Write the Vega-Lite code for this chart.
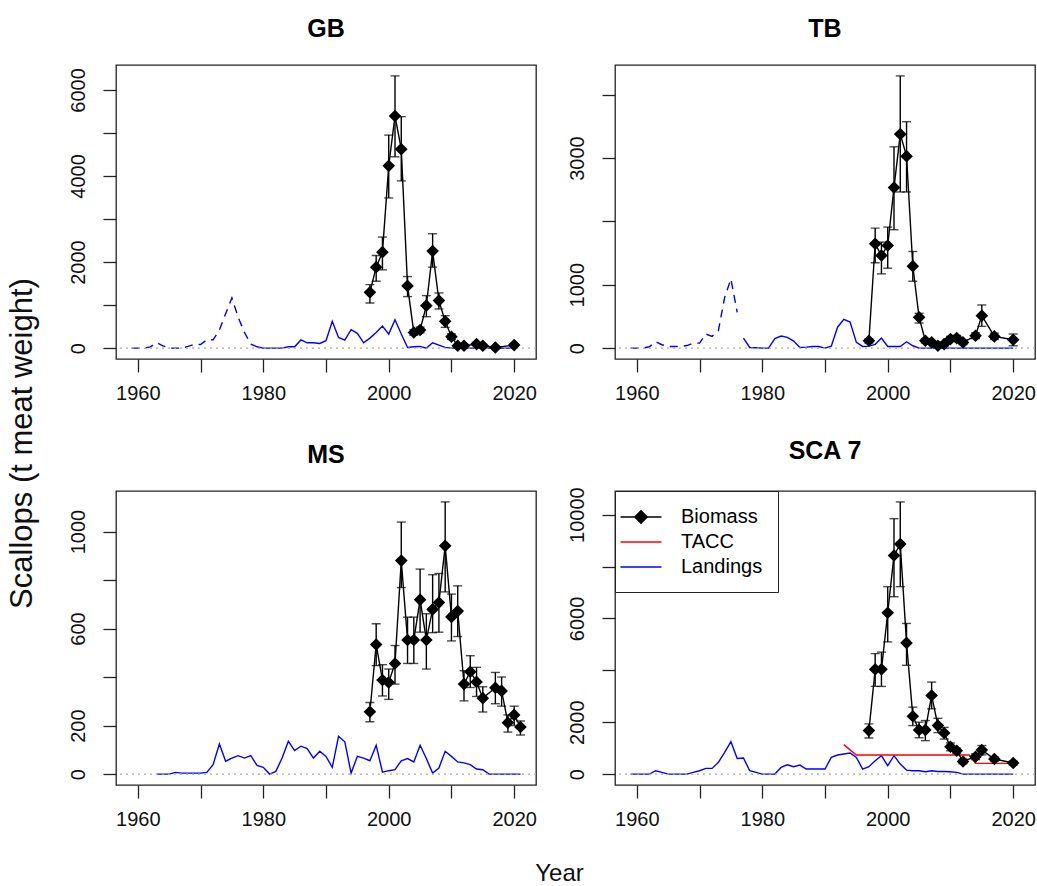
{
"$schema": "https://vega.github.io/schema/vega-lite/v6.json",
"background": "white",
"padding": {"left": 5, "top": 16, "right": 5, "bottom": 5},
"columns": 2,
"spacing": {"row": 132, "column": 79},
"bounds": "flush",
"resolve": {"scale": {"color": "independent"}, "legend": {"color": "independent"}},
"datasets": {
"bio": [
{"p":"GB","year":1997,"b":1296,"lo":1049,"hi":1476},{"p":"GB","year":1998,"b":1881,"lo":1554,"hi":2153},{"p":"GB","year":1999,"b":2230,"lo":1819,"hi":2580},{"p":"GB","year":2000,"b":4236,"lo":3490,"hi":4950},{"p":"GB","year":2001,"b":5394,"lo":4446,"hi":6326},{"p":"GB","year":2002,"b":4624,"lo":3886,"hi":5378},{"p":"GB","year":2003,"b":1446,"lo":1197,"hi":1663},{"p":"GB","year":2004,"b":364,"lo":300,"hi":430},{"p":"GB","year":2005,"b":420,"lo":355,"hi":490},{"p":"GB","year":2006,"b":987,"lo":730,"hi":1220},{"p":"GB","year":2007,"b":2254,"lo":1881,"hi":2658},{"p":"GB","year":2008,"b":1104,"lo":909,"hi":1282},{"p":"GB","year":2009,"b":622,"lo":482,"hi":754},{"p":"GB","year":2010,"b":264,"lo":200,"hi":330},{"p":"GB","year":2011,"b":54,"lo":25,"hi":85},{"p":"GB","year":2012,"b":54,"lo":25,"hi":85},{"p":"GB","year":2014,"b":93,"lo":60,"hi":130},{"p":"GB","year":2015,"b":54,"lo":25,"hi":85},{"p":"GB","year":2017,"b":15,"lo":0,"hi":40},{"p":"GB","year":2020,"b":70,"lo":40,"hi":100},
{"p":"TB","year":1997,"b":116,"lo":80,"hi":150},{"p":"TB","year":1998,"b":1646,"lo":1346,"hi":1894},{"p":"TB","year":1999,"b":1462,"lo":1172,"hi":1673},{"p":"TB","year":2000,"b":1620,"lo":1261,"hi":1910},{"p":"TB","year":2001,"b":2533,"lo":1868,"hi":3177},{"p":"TB","year":2002,"b":3377,"lo":2464,"hi":4296},{"p":"TB","year":2003,"b":3029,"lo":2464,"hi":3573},{"p":"TB","year":2004,"b":1293,"lo":1055,"hi":1525},{"p":"TB","year":2005,"b":485,"lo":396,"hi":549},{"p":"TB","year":2006,"b":116,"lo":80,"hi":150},{"p":"TB","year":2007,"b":90,"lo":60,"hi":120},{"p":"TB","year":2008,"b":37,"lo":10,"hi":65},{"p":"TB","year":2009,"b":63,"lo":30,"hi":95},{"p":"TB","year":2010,"b":142,"lo":100,"hi":185},{"p":"TB","year":2011,"b":158,"lo":115,"hi":200},{"p":"TB","year":2012,"b":90,"lo":55,"hi":125},{"p":"TB","year":2014,"b":195,"lo":150,"hi":240},{"p":"TB","year":2015,"b":512,"lo":343,"hi":681},{"p":"TB","year":2017,"b":185,"lo":135,"hi":235},{"p":"TB","year":2020,"b":132,"lo":37,"hi":222},
{"p":"MS","year":1997,"b":257,"lo":216,"hi":295},{"p":"MS","year":1998,"b":534,"lo":447,"hi":620},{"p":"MS","year":1999,"b":388,"lo":322,"hi":451},{"p":"MS","year":2000,"b":378,"lo":308,"hi":433},{"p":"MS","year":2001,"b":456,"lo":371,"hi":530},{"p":"MS","year":2002,"b":880,"lo":769,"hi":1039},{"p":"MS","year":2003,"b":553,"lo":456,"hi":647},{"p":"MS","year":2004,"b":553,"lo":456,"hi":647},{"p":"MS","year":2005,"b":719,"lo":585,"hi":845},{"p":"MS","year":2006,"b":553,"lo":433,"hi":661},{"p":"MS","year":2007,"b":679,"lo":583,"hi":822},{"p":"MS","year":2008,"b":707,"lo":585,"hi":827},{"p":"MS","year":2009,"b":941,"lo":751,"hi":1122},{"p":"MS","year":2010,"b":648,"lo":549,"hi":742},{"p":"MS","year":2011,"b":672,"lo":567,"hi":776},{"p":"MS","year":2012,"b":371,"lo":302,"hi":426},{"p":"MS","year":2013,"b":422,"lo":357,"hi":488},{"p":"MS","year":2014,"b":380,"lo":320,"hi":440},{"p":"MS","year":2015,"b":313,"lo":256,"hi":360},{"p":"MS","year":2017,"b":356,"lo":290,"hi":419},{"p":"MS","year":2018,"b":343,"lo":280,"hi":400},{"p":"MS","year":2019,"b":212,"lo":173,"hi":244},{"p":"MS","year":2020,"b":244,"lo":200,"hi":280},{"p":"MS","year":2021,"b":194,"lo":161,"hi":219},
{"p":"SCA","year":1997,"b":1676,"lo":1394,"hi":1935},{"p":"SCA","year":1998,"b":4038,"lo":3380,"hi":4645},{"p":"SCA","year":1999,"b":4038,"lo":3380,"hi":4700},{"p":"SCA","year":2000,"b":6218,"lo":5095,"hi":7225},{"p":"SCA","year":2001,"b":8425,"lo":6837,"hi":9845},{"p":"SCA","year":2002,"b":8865,"lo":7225,"hi":10492},{"p":"SCA","year":2003,"b":5057,"lo":4193,"hi":5807},{"p":"SCA","year":2004,"b":2230,"lo":1870,"hi":2580},{"p":"SCA","year":2005,"b":1703,"lo":1400,"hi":2000},{"p":"SCA","year":2006,"b":1703,"lo":1290,"hi":2064},{"p":"SCA","year":2007,"b":3031,"lo":2516,"hi":3547},{"p":"SCA","year":2008,"b":1870,"lo":1600,"hi":2150},{"p":"SCA","year":2009,"b":1587,"lo":1350,"hi":1800},{"p":"SCA","year":2010,"b":1057,"lo":900,"hi":1200},{"p":"SCA","year":2011,"b":902,"lo":800,"hi":1000},{"p":"SCA","year":2012,"b":488,"lo":400,"hi":580},{"p":"SCA","year":2014,"b":670,"lo":560,"hi":780},{"p":"SCA","year":2015,"b":929,"lo":740,"hi":1100},{"p":"SCA","year":2017,"b":581,"lo":500,"hi":660},{"p":"SCA","year":2020,"b":426,"lo":350,"hi":500}
],
"land": [
{"p":"GB","year":1959,"v":0,"seg":"e"},{"p":"GB","year":1960,"v":0,"seg":"e"},{"p":"GB","year":1961,"v":0,"seg":"e"},{"p":"GB","year":1962,"v":30,"seg":"e"},{"p":"GB","year":1963,"v":124,"seg":"e"},{"p":"GB","year":1964,"v":54,"seg":"e"},{"p":"GB","year":1965,"v":0,"seg":"e"},{"p":"GB","year":1966,"v":0,"seg":"e"},{"p":"GB","year":1967,"v":0,"seg":"e"},{"p":"GB","year":1968,"v":40,"seg":"e"},{"p":"GB","year":1969,"v":85,"seg":"e"},{"p":"GB","year":1970,"v":85,"seg":"e"},{"p":"GB","year":1971,"v":194,"seg":"e"},{"p":"GB","year":1972,"v":194,"seg":"e"},{"p":"GB","year":1973,"v":420,"seg":"e"},{"p":"GB","year":1974,"v":800,"seg":"e"},{"p":"GB","year":1975,"v":1166,"seg":"e"},{"p":"GB","year":1976,"v":715,"seg":"e"},{"p":"GB","year":1977,"v":365,"seg":"e"},{"p":"GB","year":1978,"v":93,"seg":"e"},
{"p":"GB","year":1978,"v":93,"seg":"r"},{"p":"GB","year":1979,"v":31,"seg":"r"},{"p":"GB","year":1980,"v":0,"seg":"r"},{"p":"GB","year":1981,"v":0,"seg":"r"},{"p":"GB","year":1982,"v":0,"seg":"r"},{"p":"GB","year":1983,"v":0,"seg":"r"},{"p":"GB","year":1984,"v":31,"seg":"r"},{"p":"GB","year":1985,"v":31,"seg":"r"},{"p":"GB","year":1986,"v":190,"seg":"r"},{"p":"GB","year":1987,"v":124,"seg":"r"},{"p":"GB","year":1988,"v":124,"seg":"r"},{"p":"GB","year":1989,"v":109,"seg":"r"},{"p":"GB","year":1990,"v":171,"seg":"r"},{"p":"GB","year":1991,"v":622,"seg":"r"},{"p":"GB","year":1992,"v":249,"seg":"r"},{"p":"GB","year":1993,"v":187,"seg":"r"},{"p":"GB","year":1994,"v":427,"seg":"r"},{"p":"GB","year":1995,"v":342,"seg":"r"},{"p":"GB","year":1996,"v":124,"seg":"r"},{"p":"GB","year":1997,"v":233,"seg":"r"},{"p":"GB","year":1998,"v":365,"seg":"r"},{"p":"GB","year":1999,"v":513,"seg":"r"},{"p":"GB","year":2000,"v":326,"seg":"r"},{"p":"GB","year":2001,"v":660,"seg":"r"},{"p":"GB","year":2002,"v":326,"seg":"r"},{"p":"GB","year":2003,"v":16,"seg":"r"},{"p":"GB","year":2004,"v":31,"seg":"r"},{"p":"GB","year":2005,"v":39,"seg":"r"},{"p":"GB","year":2006,"v":0,"seg":"r"},{"p":"GB","year":2007,"v":124,"seg":"r"},{"p":"GB","year":2008,"v":70,"seg":"r"},{"p":"GB","year":2009,"v":16,"seg":"r"},{"p":"GB","year":2010,"v":0,"seg":"r"},{"p":"GB","year":2011,"v":0,"seg":"r"},{"p":"GB","year":2012,"v":0,"seg":"r"},{"p":"GB","year":2013,"v":0,"seg":"r"},{"p":"GB","year":2014,"v":0,"seg":"r"},{"p":"GB","year":2015,"v":0,"seg":"r"},{"p":"GB","year":2016,"v":0,"seg":"r"},{"p":"GB","year":2017,"v":0,"seg":"r"},{"p":"GB","year":2018,"v":0,"seg":"r"},{"p":"GB","year":2019,"v":0,"seg":"r"},{"p":"GB","year":2020,"v":0,"seg":"r"},
{"p":"TB","year":1959,"v":0,"seg":"e"},{"p":"TB","year":1960,"v":0,"seg":"e"},{"p":"TB","year":1961,"v":0,"seg":"e"},{"p":"TB","year":1962,"v":21,"seg":"e"},{"p":"TB","year":1963,"v":100,"seg":"e"},{"p":"TB","year":1964,"v":53,"seg":"e"},{"p":"TB","year":1965,"v":26,"seg":"e"},{"p":"TB","year":1966,"v":26,"seg":"e"},{"p":"TB","year":1967,"v":26,"seg":"e"},{"p":"TB","year":1968,"v":40,"seg":"e"},{"p":"TB","year":1969,"v":79,"seg":"e"},{"p":"TB","year":1970,"v":79,"seg":"e"},{"p":"TB","year":1971,"v":222,"seg":"e"},{"p":"TB","year":1972,"v":185,"seg":"e"},{"p":"TB","year":1973,"v":274,"seg":"e"},{"p":"TB","year":1974,"v":800,"seg":"e"},{"p":"TB","year":1975,"v":1090,"seg":"e"},{"p":"TB","year":1976,"v":565,"seg":"e"},
{"p":"TB","year":1977,"v":158,"seg":"r"},{"p":"TB","year":1978,"v":10,"seg":"r"},{"p":"TB","year":1979,"v":5,"seg":"r"},{"p":"TB","year":1980,"v":0,"seg":"r"},{"p":"TB","year":1981,"v":0,"seg":"r"},{"p":"TB","year":1982,"v":150,"seg":"r"},{"p":"TB","year":1983,"v":190,"seg":"r"},{"p":"TB","year":1984,"v":170,"seg":"r"},{"p":"TB","year":1985,"v":110,"seg":"r"},{"p":"TB","year":1986,"v":10,"seg":"r"},{"p":"TB","year":1987,"v":15,"seg":"r"},{"p":"TB","year":1988,"v":26,"seg":"r"},{"p":"TB","year":1989,"v":26,"seg":"r"},{"p":"TB","year":1990,"v":0,"seg":"r"},{"p":"TB","year":1991,"v":30,"seg":"r"},{"p":"TB","year":1992,"v":330,"seg":"r"},{"p":"TB","year":1993,"v":455,"seg":"r"},{"p":"TB","year":1994,"v":410,"seg":"r"},{"p":"TB","year":1995,"v":90,"seg":"r"},{"p":"TB","year":1996,"v":26,"seg":"r"},{"p":"TB","year":1997,"v":32,"seg":"r"},{"p":"TB","year":1998,"v":60,"seg":"r"},{"p":"TB","year":1999,"v":158,"seg":"r"},{"p":"TB","year":2000,"v":26,"seg":"r"},{"p":"TB","year":2001,"v":26,"seg":"r"},{"p":"TB","year":2002,"v":26,"seg":"r"},{"p":"TB","year":2003,"v":100,"seg":"r"},{"p":"TB","year":2004,"v":37,"seg":"r"},{"p":"TB","year":2005,"v":0,"seg":"r"},{"p":"TB","year":2006,"v":0,"seg":"r"},{"p":"TB","year":2007,"v":0,"seg":"r"},{"p":"TB","year":2008,"v":0,"seg":"r"},{"p":"TB","year":2009,"v":0,"seg":"r"},{"p":"TB","year":2010,"v":0,"seg":"r"},{"p":"TB","year":2011,"v":0,"seg":"r"},{"p":"TB","year":2012,"v":0,"seg":"r"},{"p":"TB","year":2013,"v":0,"seg":"r"},{"p":"TB","year":2014,"v":0,"seg":"r"},{"p":"TB","year":2015,"v":0,"seg":"r"},{"p":"TB","year":2016,"v":0,"seg":"r"},{"p":"TB","year":2017,"v":0,"seg":"r"},{"p":"TB","year":2018,"v":0,"seg":"r"},{"p":"TB","year":2019,"v":0,"seg":"r"},{"p":"TB","year":2020,"v":0,"seg":"r"},
{"p":"MS","year":1963,"v":0,"seg":"r"},{"p":"MS","year":1964,"v":0,"seg":"r"},{"p":"MS","year":1965,"v":0,"seg":"r"},{"p":"MS","year":1966,"v":7,"seg":"r"},{"p":"MS","year":1967,"v":4,"seg":"r"},{"p":"MS","year":1968,"v":4,"seg":"r"},{"p":"MS","year":1969,"v":4,"seg":"r"},{"p":"MS","year":1970,"v":4,"seg":"r"},{"p":"MS","year":1971,"v":7,"seg":"r"},{"p":"MS","year":1972,"v":39,"seg":"r"},{"p":"MS","year":1973,"v":124,"seg":"r"},{"p":"MS","year":1974,"v":53,"seg":"r"},{"p":"MS","year":1975,"v":66,"seg":"r"},{"p":"MS","year":1976,"v":76,"seg":"r"},{"p":"MS","year":1977,"v":66,"seg":"r"},{"p":"MS","year":1978,"v":76,"seg":"r"},{"p":"MS","year":1979,"v":36,"seg":"r"},{"p":"MS","year":1980,"v":28,"seg":"r"},{"p":"MS","year":1981,"v":0,"seg":"r"},{"p":"MS","year":1982,"v":11,"seg":"r"},{"p":"MS","year":1983,"v":66,"seg":"r"},{"p":"MS","year":1984,"v":135,"seg":"r"},{"p":"MS","year":1985,"v":97,"seg":"r"},{"p":"MS","year":1986,"v":115,"seg":"r"},{"p":"MS","year":1987,"v":105,"seg":"r"},{"p":"MS","year":1988,"v":66,"seg":"r"},{"p":"MS","year":1989,"v":94,"seg":"r"},{"p":"MS","year":1990,"v":73,"seg":"r"},{"p":"MS","year":1991,"v":28,"seg":"r"},{"p":"MS","year":1992,"v":156,"seg":"r"},{"p":"MS","year":1993,"v":133,"seg":"r"},{"p":"MS","year":1994,"v":4,"seg":"r"},{"p":"MS","year":1995,"v":73,"seg":"r"},{"p":"MS","year":1996,"v":66,"seg":"r"},{"p":"MS","year":1997,"v":55,"seg":"r"},{"p":"MS","year":1998,"v":119,"seg":"r"},{"p":"MS","year":1999,"v":8,"seg":"r"},{"p":"MS","year":2000,"v":14,"seg":"r"},{"p":"MS","year":2001,"v":18,"seg":"r"},{"p":"MS","year":2002,"v":55,"seg":"r"},{"p":"MS","year":2003,"v":64,"seg":"r"},{"p":"MS","year":2004,"v":50,"seg":"r"},{"p":"MS","year":2005,"v":119,"seg":"r"},{"p":"MS","year":2006,"v":64,"seg":"r"},{"p":"MS","year":2007,"v":4,"seg":"r"},{"p":"MS","year":2008,"v":25,"seg":"r"},{"p":"MS","year":2009,"v":94,"seg":"r"},{"p":"MS","year":2010,"v":73,"seg":"r"},{"p":"MS","year":2011,"v":50,"seg":"r"},{"p":"MS","year":2012,"v":46,"seg":"r"},{"p":"MS","year":2013,"v":39,"seg":"r"},{"p":"MS","year":2014,"v":21,"seg":"r"},{"p":"MS","year":2015,"v":18,"seg":"r"},{"p":"MS","year":2016,"v":0,"seg":"r"},{"p":"MS","year":2017,"v":0,"seg":"r"},{"p":"MS","year":2018,"v":0,"seg":"r"},{"p":"MS","year":2019,"v":0,"seg":"r"},{"p":"MS","year":2020,"v":0,"seg":"r"},{"p":"MS","year":2021,"v":0,"seg":"r"},
{"p":"SCA","year":1959,"v":0,"seg":"r"},{"p":"SCA","year":1960,"v":0,"seg":"r"},{"p":"SCA","year":1961,"v":0,"seg":"r"},{"p":"SCA","year":1962,"v":0,"seg":"r"},{"p":"SCA","year":1963,"v":129,"seg":"r"},{"p":"SCA","year":1964,"v":65,"seg":"r"},{"p":"SCA","year":1965,"v":0,"seg":"r"},{"p":"SCA","year":1966,"v":0,"seg":"r"},{"p":"SCA","year":1967,"v":0,"seg":"r"},{"p":"SCA","year":1968,"v":0,"seg":"r"},{"p":"SCA","year":1969,"v":65,"seg":"r"},{"p":"SCA","year":1970,"v":129,"seg":"r"},{"p":"SCA","year":1971,"v":219,"seg":"r"},{"p":"SCA","year":1972,"v":219,"seg":"r"},{"p":"SCA","year":1973,"v":452,"seg":"r"},{"p":"SCA","year":1974,"v":839,"seg":"r"},{"p":"SCA","year":1975,"v":1250,"seg":"r"},{"p":"SCA","year":1976,"v":600,"seg":"r"},{"p":"SCA","year":1977,"v":620,"seg":"r"},{"p":"SCA","year":1978,"v":129,"seg":"r"},{"p":"SCA","year":1979,"v":65,"seg":"r"},{"p":"SCA","year":1980,"v":0,"seg":"r"},{"p":"SCA","year":1981,"v":0,"seg":"r"},{"p":"SCA","year":1982,"v":0,"seg":"r"},{"p":"SCA","year":1983,"v":258,"seg":"r"},{"p":"SCA","year":1984,"v":361,"seg":"r"},{"p":"SCA","year":1985,"v":284,"seg":"r"},{"p":"SCA","year":1986,"v":348,"seg":"r"},{"p":"SCA","year":1987,"v":194,"seg":"r"},{"p":"SCA","year":1988,"v":194,"seg":"r"},{"p":"SCA","year":1989,"v":194,"seg":"r"},{"p":"SCA","year":1990,"v":194,"seg":"r"},{"p":"SCA","year":1991,"v":645,"seg":"r"},{"p":"SCA","year":1992,"v":735,"seg":"r"},{"p":"SCA","year":1993,"v":774,"seg":"r"},{"p":"SCA","year":1994,"v":813,"seg":"r"},{"p":"SCA","year":1995,"v":645,"seg":"r"},{"p":"SCA","year":1996,"v":194,"seg":"r"},{"p":"SCA","year":1997,"v":284,"seg":"r"},{"p":"SCA","year":1998,"v":516,"seg":"r"},{"p":"SCA","year":1999,"v":710,"seg":"r"},{"p":"SCA","year":2000,"v":323,"seg":"r"},{"p":"SCA","year":2001,"v":710,"seg":"r"},{"p":"SCA","year":2002,"v":387,"seg":"r"},{"p":"SCA","year":2003,"v":155,"seg":"r"},{"p":"SCA","year":2004,"v":129,"seg":"r"},{"p":"SCA","year":2005,"v":129,"seg":"r"},{"p":"SCA","year":2006,"v":90,"seg":"r"},{"p":"SCA","year":2007,"v":129,"seg":"r"},{"p":"SCA","year":2008,"v":103,"seg":"r"},{"p":"SCA","year":2009,"v":103,"seg":"r"},{"p":"SCA","year":2010,"v":90,"seg":"r"},{"p":"SCA","year":2011,"v":65,"seg":"r"},{"p":"SCA","year":2012,"v":0,"seg":"r"},{"p":"SCA","year":2013,"v":0,"seg":"r"},{"p":"SCA","year":2014,"v":0,"seg":"r"},{"p":"SCA","year":2015,"v":0,"seg":"r"},{"p":"SCA","year":2016,"v":0,"seg":"r"},{"p":"SCA","year":2017,"v":0,"seg":"r"},{"p":"SCA","year":2018,"v":0,"seg":"r"},{"p":"SCA","year":2019,"v":0,"seg":"r"},{"p":"SCA","year":2020,"v":0,"seg":"r"}
],
"tacc": [
{"year":1993,"v":1135},{"year":1994,"v":935},{"year":1995,"v":735},{"year":1996,"v":735},{"year":1997,"v":735},{"year":1998,"v":735},{"year":1999,"v":735},{"year":2000,"v":735},{"year":2001,"v":735},{"year":2002,"v":735},{"year":2003,"v":735},{"year":2004,"v":735},{"year":2005,"v":735},{"year":2006,"v":735},{"year":2007,"v":735},{"year":2008,"v":735},{"year":2009,"v":735},{"year":2010,"v":735},{"year":2011,"v":735},{"year":2012,"v":735},{"year":2013,"v":735},{"year":2014,"v":413},{"year":2015,"v":413},{"year":2016,"v":413},{"year":2017,"v":413},{"year":2018,"v":413},{"year":2019,"v":413},{"year":2020,"v":413}
]
},
"concat": [
{
"width": 420, "height": 294,
"title": {"text": "GB"},
"layer": [
{"data": {"name": "land"}, "transform": [{"filter": "datum.p === 'GB' && datum.seg === 'e'"}],
 "mark": {"type": "line", "color": "#0000ff", "strokeWidth": 1.4, "strokeDash": [8, 6]},
 "encoding": {
  "x": {"field": "year", "type": "quantitative", "scale": {"domain": [1956.52, 2023.48], "nice": false, "zero": false}, "axis": {"values": [1960,1970,1980,1990,2000,2010,2020], "format": "d", "labelExpr": "datum.value % 20 === 0 ? datum.label : ''", "title": null}},
  "y": {"field": "v", "type": "quantitative", "scale": {"domain": [-253, 6579], "nice": false, "zero": false}, "axis": {"values": [0,1000,2000,3000,4000,5000,6000], "format": "d", "labelExpr": "indexof([0,2000,4000,6000], datum.value) >= 0 ? datum.label : ''", "title": "Scallops (t meat weight)", "titleX": -94, "titleY": 378, "titleAngle": -90, "titleAlign": "center", "titleBaseline": "middle", "titleFontSize": 31}}}},
{"data": {"name": "land"}, "transform": [{"filter": "datum.p === 'GB' && datum.seg === 'r'"}],
 "mark": {"type": "line", "color": "#0000ff", "strokeWidth": 1.4},
 "encoding": {"x": {"field": "year", "type": "quantitative"}, "y": {"field": "v", "type": "quantitative"}}},
{"data": {"values": [{}]}, "mark": {"type": "rule", "color": "#aaaaaa", "strokeDash": [2, 4], "strokeWidth": 1.4},
 "encoding": {"y": {"datum": 0, "type": "quantitative"}}},
{"data": {"name": "bio"}, "transform": [{"filter": "datum.p === 'GB'"}],
 "mark": {"type": "line", "color": "black", "strokeWidth": 1.4},
 "encoding": {"x": {"field": "year", "type": "quantitative"}, "y": {"field": "b", "type": "quantitative"}}},
{"data": {"name": "bio"}, "transform": [{"filter": "datum.p === 'GB'"}],
 "mark": {"type": "rule", "color": "black", "strokeWidth": 1.4},
 "encoding": {"x": {"field": "year", "type": "quantitative"}, "y": {"field": "lo", "type": "quantitative"}, "y2": {"field": "hi"}}},
{"data": {"name": "bio"}, "transform": [{"filter": "datum.p === 'GB'"}],
 "mark": {"type": "tick", "orient": "horizontal", "color": "black", "size": 9, "thickness": 1.4},
 "encoding": {"x": {"field": "year", "type": "quantitative"}, "y": {"field": "lo", "type": "quantitative"}}},
{"data": {"name": "bio"}, "transform": [{"filter": "datum.p === 'GB'"}],
 "mark": {"type": "tick", "orient": "horizontal", "color": "black", "size": 9, "thickness": 1.4},
 "encoding": {"x": {"field": "year", "type": "quantitative"}, "y": {"field": "hi", "type": "quantitative"}}},
{"data": {"name": "bio"}, "transform": [{"filter": "datum.p === 'GB'"}],
 "mark": {"type": "point", "shape": "diamond", "filled": true, "color": "black", "opacity": 1, "size": 110, "stroke": "black", "strokeWidth": 1.5},
 "encoding": {"x": {"field": "year", "type": "quantitative"}, "y": {"field": "b", "type": "quantitative"}}}
]
},
{
"width": 420, "height": 294,
"title": {"text": "TB"},
"layer": [
{"data": {"name": "land"}, "transform": [{"filter": "datum.p === 'TB' && datum.seg === 'e'"}],
 "mark": {"type": "line", "color": "#0000ff", "strokeWidth": 1.4, "strokeDash": [8, 6]},
 "encoding": {
  "x": {"field": "year", "type": "quantitative", "scale": {"domain": [1956.52, 2023.48], "nice": false, "zero": false}, "axis": {"values": [1960,1970,1980,1990,2000,2010,2020], "format": "d", "labelExpr": "datum.value % 20 === 0 ? datum.label : ''", "title": null}},
  "y": {"field": "v", "type": "quantitative", "scale": {"domain": [-172, 4468], "nice": false, "zero": false}, "axis": {"values": [0,1000,2000,3000,4000], "format": "d", "labelExpr": "indexof([0,1000,3000], datum.value) >= 0 ? datum.label : ''", "title": null}}}},
{"data": {"name": "land"}, "transform": [{"filter": "datum.p === 'TB' && datum.seg === 'r'"}],
 "mark": {"type": "line", "color": "#0000ff", "strokeWidth": 1.4},
 "encoding": {"x": {"field": "year", "type": "quantitative"}, "y": {"field": "v", "type": "quantitative"}}},
{"data": {"values": [{}]}, "mark": {"type": "rule", "color": "#aaaaaa", "strokeDash": [2, 4], "strokeWidth": 1.4},
 "encoding": {"y": {"datum": 0, "type": "quantitative"}}},
{"data": {"name": "bio"}, "transform": [{"filter": "datum.p === 'TB'"}],
 "mark": {"type": "line", "color": "black", "strokeWidth": 1.4},
 "encoding": {"x": {"field": "year", "type": "quantitative"}, "y": {"field": "b", "type": "quantitative"}}},
{"data": {"name": "bio"}, "transform": [{"filter": "datum.p === 'TB'"}],
 "mark": {"type": "rule", "color": "black", "strokeWidth": 1.4},
 "encoding": {"x": {"field": "year", "type": "quantitative"}, "y": {"field": "lo", "type": "quantitative"}, "y2": {"field": "hi"}}},
{"data": {"name": "bio"}, "transform": [{"filter": "datum.p === 'TB'"}],
 "mark": {"type": "tick", "orient": "horizontal", "color": "black", "size": 9, "thickness": 1.4},
 "encoding": {"x": {"field": "year", "type": "quantitative"}, "y": {"field": "lo", "type": "quantitative"}}},
{"data": {"name": "bio"}, "transform": [{"filter": "datum.p === 'TB'"}],
 "mark": {"type": "tick", "orient": "horizontal", "color": "black", "size": 9, "thickness": 1.4},
 "encoding": {"x": {"field": "year", "type": "quantitative"}, "y": {"field": "hi", "type": "quantitative"}}},
{"data": {"name": "bio"}, "transform": [{"filter": "datum.p === 'TB'"}],
 "mark": {"type": "point", "shape": "diamond", "filled": true, "color": "black", "opacity": 1, "size": 110, "stroke": "black", "strokeWidth": 1.5},
 "encoding": {"x": {"field": "year", "type": "quantitative"}, "y": {"field": "b", "type": "quantitative"}}}
]
},
{
"width": 420, "height": 294,
"title": {"text": "MS"},
"layer": [
{"data": {"name": "land"}, "transform": [{"filter": "datum.p === 'MS'"}],
 "mark": {"type": "line", "color": "#0000ff", "strokeWidth": 1.4},
 "encoding": {
  "x": {"field": "year", "type": "quantitative", "scale": {"domain": [1956.52, 2023.48], "nice": false, "zero": false}, "axis": {"values": [1960,1970,1980,1990,2000,2010,2020], "format": "d", "labelExpr": "datum.value % 20 === 0 ? datum.label : ''", "title": "Year", "titleX": 443, "titleY": 88, "titleAlign": "center", "titleBaseline": "middle", "titleFontSize": 24}},
  "y": {"field": "v", "type": "quantitative", "scale": {"domain": [-45, 1167], "nice": false, "zero": false}, "axis": {"values": [0,200,400,600,800,1000], "format": "d", "labelExpr": "indexof([0,200,600,1000], datum.value) >= 0 ? datum.label : ''", "title": null}}}},
{"data": {"values": [{}]}, "mark": {"type": "rule", "color": "#aaaaaa", "strokeDash": [2, 4], "strokeWidth": 1.4},
 "encoding": {"y": {"datum": 0, "type": "quantitative"}}},
{"data": {"name": "bio"}, "transform": [{"filter": "datum.p === 'MS'"}],
 "mark": {"type": "line", "color": "black", "strokeWidth": 1.4},
 "encoding": {"x": {"field": "year", "type": "quantitative"}, "y": {"field": "b", "type": "quantitative"}}},
{"data": {"name": "bio"}, "transform": [{"filter": "datum.p === 'MS'"}],
 "mark": {"type": "rule", "color": "black", "strokeWidth": 1.4},
 "encoding": {"x": {"field": "year", "type": "quantitative"}, "y": {"field": "lo", "type": "quantitative"}, "y2": {"field": "hi"}}},
{"data": {"name": "bio"}, "transform": [{"filter": "datum.p === 'MS'"}],
 "mark": {"type": "tick", "orient": "horizontal", "color": "black", "size": 9, "thickness": 1.4},
 "encoding": {"x": {"field": "year", "type": "quantitative"}, "y": {"field": "lo", "type": "quantitative"}}},
{"data": {"name": "bio"}, "transform": [{"filter": "datum.p === 'MS'"}],
 "mark": {"type": "tick", "orient": "horizontal", "color": "black", "size": 9, "thickness": 1.4},
 "encoding": {"x": {"field": "year", "type": "quantitative"}, "y": {"field": "hi", "type": "quantitative"}}},
{"data": {"name": "bio"}, "transform": [{"filter": "datum.p === 'MS'"}],
 "mark": {"type": "point", "shape": "diamond", "filled": true, "color": "black", "opacity": 1, "size": 110, "stroke": "black", "strokeWidth": 1.5},
 "encoding": {"x": {"field": "year", "type": "quantitative"}, "y": {"field": "b", "type": "quantitative"}}}
]
},
{
"width": 420, "height": 294,
"title": {"text": "SCA 7"},
"layer": [
{"data": {"name": "land"}, "transform": [{"filter": "datum.p === 'SCA'"}],
 "mark": {"type": "line", "strokeWidth": 1.4},
 "encoding": {
  "x": {"field": "year", "type": "quantitative", "scale": {"domain": [1956.52, 2023.48], "nice": false, "zero": false}, "axis": {"values": [1960,1970,1980,1990,2000,2010,2020], "format": "d", "labelExpr": "datum.value % 20 === 0 ? datum.label : ''", "title": null}},
  "y": {"field": "v", "type": "quantitative", "scale": {"domain": [-420, 10912], "nice": false, "zero": false}, "axis": {"values": [0,2000,4000,6000,8000,10000], "format": "d", "labelExpr": "indexof([0,2000,6000,10000], datum.value) >= 0 ? datum.label : ''", "title": null}},
  "color": {"datum": "Landings", "scale": {"domain": ["Biomass", "TACC", "Landings"], "range": ["black", "red", "#0000ff"]},
   "legend": {"orient": "top-left", "offset": 0, "title": null, "symbolType": "M-2,0L2,0", "symbolSize": 420, "symbolStrokeWidth": 1.5, "labelFontSize": 20, "labelColor": "black", "labelOffset": 29, "rowPadding": 4, "padding": 15, "strokeColor": "#222222", "fillColor": "white", "cornerRadius": 0,
    "encoding": {"symbols": {"shape": {"condition": {"test": "datum.value === 'Biomass'", "value": "M-2,0L2,0M0,-0.6L0.6,0L0,0.6L-0.6,0Z"}, "value": "M-2,0L2,0"}, "fill": {"condition": {"test": "datum.value === 'Biomass'", "value": "black"}, "value": "transparent"}}}}}}},
{"data": {"name": "tacc"},
 "mark": {"type": "line", "strokeWidth": 1.4},
 "encoding": {"x": {"field": "year", "type": "quantitative"}, "y": {"field": "v", "type": "quantitative"}, "color": {"datum": "TACC"}}},
{"data": {"values": [{}]}, "mark": {"type": "rule", "color": "#aaaaaa", "strokeDash": [2, 4], "strokeWidth": 1.4},
 "encoding": {"y": {"datum": 0, "type": "quantitative"}}},
{"data": {"name": "bio"}, "transform": [{"filter": "datum.p === 'SCA'"}],
 "mark": {"type": "line", "strokeWidth": 1.4},
 "encoding": {"x": {"field": "year", "type": "quantitative"}, "y": {"field": "b", "type": "quantitative"}, "color": {"datum": "Biomass"}}},
{"data": {"name": "bio"}, "transform": [{"filter": "datum.p === 'SCA'"}],
 "mark": {"type": "rule", "color": "black", "strokeWidth": 1.4},
 "encoding": {"x": {"field": "year", "type": "quantitative"}, "y": {"field": "lo", "type": "quantitative"}, "y2": {"field": "hi"}}},
{"data": {"name": "bio"}, "transform": [{"filter": "datum.p === 'SCA'"}],
 "mark": {"type": "tick", "orient": "horizontal", "color": "black", "size": 9, "thickness": 1.4},
 "encoding": {"x": {"field": "year", "type": "quantitative"}, "y": {"field": "lo", "type": "quantitative"}}},
{"data": {"name": "bio"}, "transform": [{"filter": "datum.p === 'SCA'"}],
 "mark": {"type": "tick", "orient": "horizontal", "color": "black", "size": 9, "thickness": 1.4},
 "encoding": {"x": {"field": "year", "type": "quantitative"}, "y": {"field": "hi", "type": "quantitative"}}},
{"data": {"name": "bio"}, "transform": [{"filter": "datum.p === 'SCA'"}],
 "mark": {"type": "point", "shape": "diamond", "filled": true, "color": "black", "opacity": 1, "size": 110, "stroke": "black", "strokeWidth": 1.5},
 "encoding": {"x": {"field": "year", "type": "quantitative"}, "y": {"field": "b", "type": "quantitative"}}}
]
}
],
"config": {
 "font": "Liberation Sans",
 "view": {"stroke": "#222222", "strokeWidth": 1.3},
 "axis": {"domain": false, "grid": false, "ticks": true, "tickSize": 13, "tickColor": "#222222", "tickWidth": 1.3, "labelFont": "Liberation Sans", "labelFontSize": 20, "labelColor": "#111111", "labelOverlap": false, "labelFlush": false, "titleFont": "Liberation Sans", "titleFontWeight": "normal", "titleColor": "#111111"},
 "axisX": {"labelPadding": 11},
 "axisY": {"labelAngle": -90, "labelAlign": "center", "labelBaseline": "bottom", "labelPadding": 15},
 "title": {"font": "Liberation Sans", "fontSize": 25, "fontWeight": "bold", "color": "#000000", "frame": "group", "anchor": "middle", "offset": 23, "baseline": "alphabetic"},
 "legend": {"labelFont": "Liberation Sans"}
}
}
